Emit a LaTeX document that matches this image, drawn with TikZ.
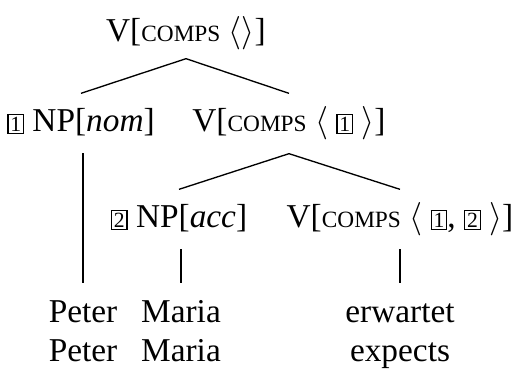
\documentclass[tikz,border=0pt]{standalone}
\usepackage{fontspec}
\setmainfont{Liberation Serif}
\newcommand\fsc[1]{{\fontsize{7}{8}\selectfont\uppercase{#1}}}
\newcommand\tagnum[1]{{\setlength{\fboxsep}{0.5pt}\setlength{\fboxrule}{0.4pt}\fbox{\fontsize{6.5}{7}\selectfont #1}}}
\begin{document}
\begin{tikzpicture}[x=0.3pt,y=-0.3pt,
  cat/.style={inner sep=0pt,text height=7.5pt,text depth=2.5pt,font=\fontsize{10}{12}\selectfont},
  branch/.style={line width=0.4pt},
  stem/.style={line width=0.4pt,shorten <=4pt,shorten >=3.9pt}]
\useasboundingbox (0,0) rectangle (512,369);
\node[cat,anchor=base] (top) at (186,41) {V[\fsc{comps} $\langle\rangle$]};
\node[cat,anchor=base] (np1) at (81,131) {\tagnum{1} NP[\textit{nom}]};
\node[cat,anchor=base] (v1) at (289,131) {V[\fsc{comps} $\langle$ \tagnum{1} $\rangle$]};
\node[cat,anchor=base] (np2) at (179,227) {\tagnum{2} NP[\textit{acc}]};
\node[cat,anchor=base] (v2) at (400,227) {V[\fsc{comps} $\langle$ \tagnum{1}, \tagnum{2} $\rangle$]};
\node[cat,anchor=base] (w1) at (83,322) {Peter};
\node[cat,anchor=base] (w2) at (181,322) {Maria};
\node[cat,anchor=base] (w3) at (400,322) {erwartet};
\node[cat,anchor=base] (g1) at (83,361) {Peter};
\node[cat,anchor=base] (g2) at (181,361) {Maria};
\node[cat,anchor=base] (g3) at (400,361) {expects};
\draw[branch] ([yshift=-2.6pt]top.south) -- ([yshift=3.6pt]np1.north);
\draw[branch] ([yshift=-2.6pt]top.south) -- ([yshift=3.6pt]v1.north);
\draw[branch] ([yshift=-4.1pt]v1.south) -- ([yshift=3.6pt]np2.north);
\draw[branch] ([yshift=-4.1pt]v1.south) -- ([yshift=3.6pt]v2.north);
\draw[stem] (w1.north |- np1.south) -- (w1.north);
\draw[stem] (w2.north |- np2.south) -- (w2.north);
\draw[stem] (w3.north |- v2.south) -- (w3.north);
\end{tikzpicture}
\end{document}
